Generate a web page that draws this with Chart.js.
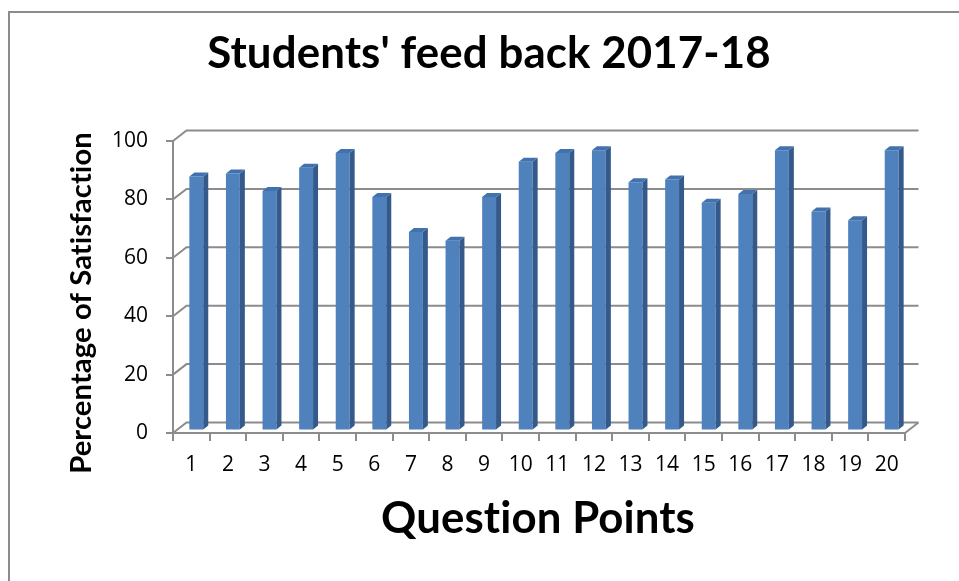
<!DOCTYPE html>
<html><head><meta charset="utf-8">
<script src="https://cdn.jsdelivr.net/npm/chart.js@4.4.1/dist/chart.umd.min.js"></script>
<style>
html,body{margin:0;padding:0;background:#fff;overflow:hidden;}
#wrap{position:relative;width:959px;height:581px;overflow:hidden;}
#frame{position:absolute;left:8px;top:11px;width:980px;height:600px;border-top:2px solid #8c8c8c;border-left:2px solid #8c8c8c;}
canvas{position:absolute;left:0;top:0;}
</style></head><body>
<div id="wrap"><div id="frame"></div><canvas id="c" width="959" height="581"></canvas></div>
<script>
const categories = ['1','2','3','4','5','6','7','8','9','10','11','12','13','14','15','16','17','18','19','20'];
const satisfaction = [87,88,82,90,95,80,68,65,80,92,95,96,85,86,78,81,96,75,72,96];
const yTicks = [0,20,40,60,80,100];
const chartTitle = "Students' feed back 2017-18";
const xTitle = 'Question Points';
const yTitle = 'Percentage of Satisfaction';

const FONT = 'Lato';
const TICK_FONT = '"Open Sans"';
const GRID = '#8c8c8c';
const DEPTH = {dx: 13.5, dy: -10.5};
const BAR_SHIFT = {dx: 5, dy: -2.5};
const BAR_DEPTH = {dx: 5, dy: -4};

function fitSize(ctx, text, weight, target) {
  ctx.font = weight + ' 100px ' + FONT;
  return 100 * target / ctx.measureText(text).width;
}

const depthPlugin = {
  id: 'depth3d',
  beforeDatasetsDraw(chart) {
    const {ctx, chartArea: a, scales: {y}} = chart;
    ctx.save();
    ctx.strokeStyle = GRID;
    ctx.lineWidth = 2;
    yTicks.forEach(v => {
      const py = y.getPixelForValue(v);
      ctx.beginPath();
      ctx.moveTo(a.left, py);
      ctx.lineTo(a.left + DEPTH.dx, py + DEPTH.dy);
      ctx.lineTo(a.right + DEPTH.dx, py + DEPTH.dy);
      if (v === 0) {
        ctx.moveTo(a.right, py);
        ctx.lineTo(a.right + DEPTH.dx, py + DEPTH.dy);
      }
      ctx.stroke();
    });
    ctx.restore();
    ctx.save();
    ctx.translate(BAR_SHIFT.dx, BAR_SHIFT.dy);
  },
  afterDatasetsDraw(chart) {
    const {ctx} = chart;
    const meta = chart.getDatasetMeta(0);
    meta.data.forEach(bar => {
      const {x, y, base, width} = bar.getProps(['x','y','base','width'], true);
      const l = x - width / 2, r = x + width / 2;
      ctx.fillStyle = '#34598b';
      ctx.beginPath();
      ctx.moveTo(r, y); ctx.lineTo(r + BAR_DEPTH.dx, y + BAR_DEPTH.dy);
      ctx.lineTo(r + BAR_DEPTH.dx, base + BAR_DEPTH.dy); ctx.lineTo(r, base);
      ctx.closePath(); ctx.fill();
      ctx.fillStyle = '#4272ad';
      ctx.beginPath();
      ctx.moveTo(l, y); ctx.lineTo(r, y);
      ctx.lineTo(r + BAR_DEPTH.dx, y + BAR_DEPTH.dy); ctx.lineTo(l + BAR_DEPTH.dx, y + BAR_DEPTH.dy);
      ctx.closePath(); ctx.fill();
    });
    ctx.restore();
  },
  afterDraw(chart) {
    const {ctx} = chart;
    ctx.save();
    if ('letterSpacing' in ctx) ctx.letterSpacing = '0.1px';
    ctx.fillStyle = '#000';
    ctx.textAlign = 'center';
    ctx.textBaseline = 'alphabetic';
    let s = fitSize(ctx, chartTitle, 'bold', 562);
    ctx.font = 'bold ' + s + 'px ' + FONT;
    ctx.fillText(chartTitle, 489, 68);
    s = fitSize(ctx, xTitle, 'bold', 313);
    ctx.font = 'bold ' + s + 'px ' + FONT;
    ctx.fillText(xTitle, 538, 533);
    s = fitSize(ctx, yTitle, 'bold', 340);
    ctx.font = 'bold ' + s + 'px ' + FONT;
    ctx.translate(91, 303);
    ctx.rotate(-Math.PI / 2);
    ctx.fillText(yTitle, 0, 0);
    ctx.restore();
  }
};

new Chart(document.getElementById('c'), {
  type: 'bar',
  data: {
    labels: categories,
    datasets: [{
      data: satisfaction,
      backgroundColor: '#4f81bd',
      borderWidth: 0,
      categoryPercentage: 1,
      barPercentage: 0.38
    }]
  },
  options: {
    responsive: false,
    animation: false,
    devicePixelRatio: 1,
    layout: {padding: {left: 113, right: 54, top: 141, bottom: 58}},
    plugins: {legend: {display: false}, tooltip: {enabled: false}, title: {display: false}},
    scales: {
      x: {
        offset: true,
        grid: {offset: true, drawOnChartArea: false, drawTicks: true, tickLength: 8, color: GRID, lineWidth: 2},
        border: {display: true, color: GRID, width: 2},
        ticks: {color: '#000', font: {family: TICK_FONT, size: 21}, padding: 11, maxRotation: 0, autoSkip: false},
        afterFit(s) { s.height = 90; }
      },
      y: {
        min: 0, max: 100,
        grid: {drawOnChartArea: false, drawTicks: true, tickLength: 7, color: GRID, lineWidth: 2},
        border: {display: true, color: GRID, width: 2},
        ticks: {stepSize: 20, color: '#000', font: {family: TICK_FONT, size: 21}, padding: 18},
        afterFit(s) { s.width = 60; }
      }
    }
  },
  plugins: [depthPlugin]
});
</script>
</body></html>
